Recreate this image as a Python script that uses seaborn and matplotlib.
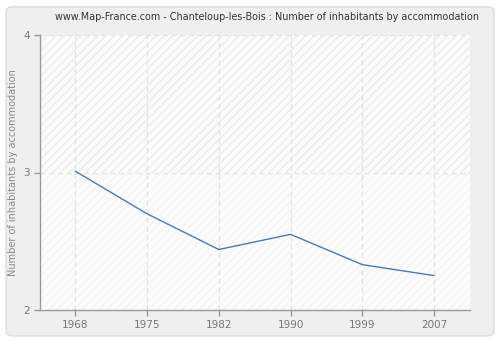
import matplotlib
matplotlib.use("Agg")
import matplotlib.pyplot as plt
import seaborn as sns
import pandas as pd
from matplotlib.patches import FancyBboxPatch

years = ["1968", "1975", "1982", "1990", "1999", "2007"]
values = [3.01, 2.70, 2.44, 2.55, 2.33, 2.25]
y_ticks = [2, 3, 4]

title = "www.Map-France.com - Chanteloup-les-Bois : Number of inhabitants by accommodation"
ylabel = "Number of inhabitants by accommodation"

sns.set_theme(style="white")
plt.rcParams['font.family'] = ['DejaVu Sans']

fig = plt.figure(figsize=(5, 3.4), dpi=100)
fig.patch.set_facecolor("white")
bg = FancyBboxPatch((0.012, 0.012), 0.976, 0.968, boxstyle="round,pad=0,rounding_size=0.015",
                    transform=fig.transFigure, facecolor="#efefef", edgecolor="#dcdcdc",
                    linewidth=1.0, zorder=-10)
fig.patches.append(bg)

ax = fig.add_axes([40 / 500, 1 - 310 / 340, 430 / 500, 275 / 340])
ax.set_facecolor("#fbfbfb")

df = pd.DataFrame({"x": range(len(years)), "y": values})

# hatched background bands
ax.axhspan(3, 4, facecolor="#fcfcfc", edgecolor="#ebebeb", hatch="////", linewidth=0, zorder=0)
ax.axhspan(2, 3, facecolor="#fcfcfc", edgecolor="#f4f4f4", hatch="////", linewidth=0, zorder=0)

sns.lineplot(data=df, x="x", y="y", ax=ax, color="#4a7ab5", linewidth=1.0, zorder=3)

ax.set_xlim(-0.49, 5.5)
ax.set_ylim(2, 4)
ax.set_xticks(range(len(years)))
ax.set_xticklabels(years)
ax.set_yticks(y_ticks)
ax.set_yticklabels([str(t) for t in y_ticks])

for i in range(len(years)):
    ax.axvline(i, color="#e2e2e2", linestyle=(0, (4, 3)), linewidth=0.9, zorder=1)
for t in y_ticks[1:]:
    ax.axhline(t, color="#e2e2e2", linestyle=(0, (4, 3)), linewidth=0.9, zorder=1)

for s in ["top", "right"]:
    ax.spines[s].set_visible(False)
for s in ["left", "bottom"]:
    ax.spines[s].set_color("#999999")
    ax.spines[s].set_linewidth(1.0)

ax.tick_params(axis="both", colors="#999999", labelcolor="#777777", labelsize=7.5,
               length=4, width=1, direction="out", bottom=True, left=True, pad=3)
ax.set_xlabel("")
ax.set_ylabel("")

fig.text(13 / 500, 1 - 173 / 340, ylabel, rotation=90, ha="center", va="center",
         fontsize=7, color="#888888")
fig.text(267 / 500, 1 - 17 / 340, title, ha="center", va="center", fontsize=6.95, color="#333333")

fig.savefig("out.png", dpi=100, facecolor=fig.get_facecolor())
